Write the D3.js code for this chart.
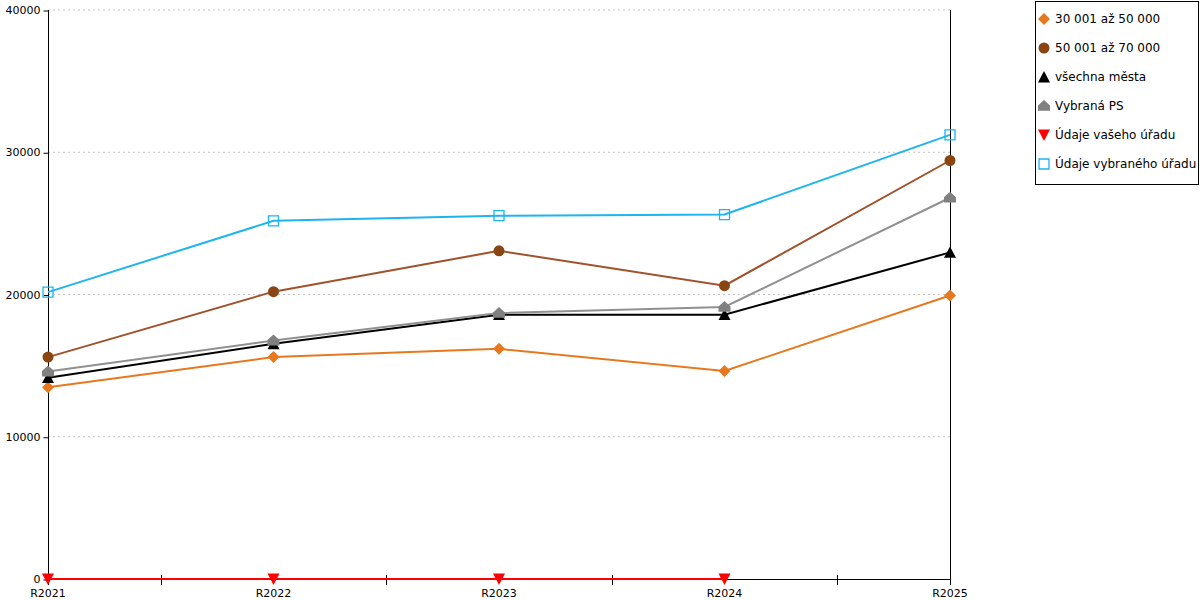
<!DOCTYPE html>
<html><head><meta charset="utf-8">
<script src="https://cdn.jsdelivr.net/npm/d3@7"></script>
<style>body{margin:0;background:#fff;font-family:"DejaVu Sans",sans-serif;}</style>
</head><body><svg id="c" width="1200" height="600"></svg>
<script>
const categories = ["R2021","R2022","R2023","R2024","R2025"];
const seriesNames = ["30 001 až 50 000","50 001 až 70 000","všechna města","Vybraná PS","Údaje vašeho úřadu","Údaje vybraného úřadu"];
const s30to50 = [13480, 15600, 16180, 14620, 19930];
const s50to70 = [15600, 20200, 23070, 20620, 29420];
const allCities = [14150, 16530, 18580, 18580, 22960];
const selectedPS = [14580, 16760, 18700, 19120, 26800];
const yourOffice = [0, 0, 0, 0, null];
const selectedOffice = [20170, 25180, 25540, 25620, 31220];
const yTicks = [0, 10000, 20000, 30000, 40000];

const colors = ["#E8781E","#A0522D","#000000","#909090","#FF0000","#1EB4F0"];
const markerColors = ["#E8781E","#8B4513","#000000","#808080","#FF0000","#1EB4F0"];
const markers = ["diamond","circle","triangle","house","triangleDown","square"];
const data = [s30to50, s50to70, allCities, selectedPS, yourOffice, selectedOffice];

const svg = d3.select("#c");
const x = d3.scalePoint().domain(categories).range([48, 950]);
const y = d3.scaleLinear().domain([0, 40000]).range([579, 10]);

// gridlines
svg.append("g").selectAll("line").data(yTicks.filter(d=>d>0)).join("line")
  .attr("x1",48).attr("x2",950).attr("y1",d=>y(d)).attr("y2",d=>y(d))
  .attr("stroke","#c0c0c0").attr("stroke-dasharray","2,3").attr("stroke-width",1);

// y axis
const yAxis = d3.axisLeft(y).tickValues(yTicks).tickSize(5).tickPadding(3).tickFormat(d3.format("d"));
const yg = svg.append("g").attr("transform","translate(48.5,0)").call(yAxis);
yg.select(".domain").remove();
yg.selectAll("text").attr("font-family","DejaVu Sans, sans-serif").attr("font-size",11).attr("fill","#000");
yg.selectAll("line").attr("transform","translate(0,0.5)");
svg.append("line").attr("x1",48.5).attr("x2",48.5).attr("y1",10).attr("y2",585).attr("stroke","#000");
svg.append("line").attr("x1",950.5).attr("x2",950.5).attr("y1",10).attr("y2",585).attr("stroke","#000");
svg.append("line").attr("x1",48).attr("x2",951).attr("y1",579.5).attr("y2",579.5).attr("stroke","#000");

// x ticks between categories
const step = x.step();
svg.append("g").selectAll("line").data(categories.slice(0,-1)).join("line")
  .attr("x1",d=>Math.round(x(d)+step/2)+0.5).attr("x2",d=>Math.round(x(d)+step/2)+0.5)
  .attr("y1",575).attr("y2",585).attr("stroke","#000");
svg.append("g").selectAll("text").data(categories).join("text")
  .attr("x",d=>x(d)).attr("y",597).attr("text-anchor","middle")
  .attr("font-size",11).attr("font-family","DejaVu Sans, sans-serif").text(d=>d);

function markerPath(type, s){
  const h = s/2;
  switch(type){
    case "diamond": return `M0,${-h}L${h},0L0,${h}L${-h},0Z`;
    case "triangle": return `M0,${-h}L${h},${h*0.9}L${-h},${h*0.9}Z`;
    case "triangleDown": return `M${-h},${-h*0.9}L${h},${-h*0.9}L0,${h}Z`;
    case "house": return `M0,${-h}L${h},${-h*0.1}L${h},${h*0.8}L${-h},${h*0.8}L${-h},${-h*0.1}Z`;
    case "square": return `M${-h},${-h}L${h},${-h}L${h},${h}L${-h},${h}Z`;
  }
}
function drawMarker(g, type, cx, cy, col){
  if(type==="circle"){
    g.append("circle").attr("cx",cx).attr("cy",cy).attr("r",5.5).attr("fill",col);
  } else if(type==="square"){
    g.append("path").attr("d",markerPath(type,10)).attr("transform",`translate(${cx},${cy})`)
      .attr("fill","#fff").attr("fill-opacity",0).attr("stroke",col).attr("stroke-width",1.3);
  } else {
    g.append("path").attr("d",markerPath(type,12)).attr("transform",`translate(${cx},${cy})`).attr("fill",col);
  }
}

const line = d3.line().defined(d=>d.v!==null).x(d=>x(d.c)).y(d=>y(d.v));
data.forEach((arr,i)=>{
  const pts = arr.map((v,j)=>({c:categories[j],v}));
  svg.append("path").datum(pts).attr("d",line).attr("fill","none")
    .attr("stroke",colors[i]).attr("stroke-width",2);
});
data.forEach((arr,i)=>{
  const g = svg.append("g");
  arr.forEach((v,j)=>{ if(v!==null) drawMarker(g, markers[i], x(categories[j]), y(v), markerColors[i]); });
});

// legend
const lg = svg.append("g");
lg.append("rect").attr("x",1035.5).attr("y",1.5).attr("width",163).attr("height",183)
  .attr("fill","#fff").attr("stroke","#000");
seriesNames.forEach((n,i)=>{
  const cy = 19 + i*29;
  drawMarker(lg, markers[i], 1044, cy, markerColors[i]);
  lg.append("text").attr("x",1055).attr("y",cy+4).attr("font-size",12)
    .attr("font-family","DejaVu Sans, sans-serif").text(n);
});
</script></body></html>
